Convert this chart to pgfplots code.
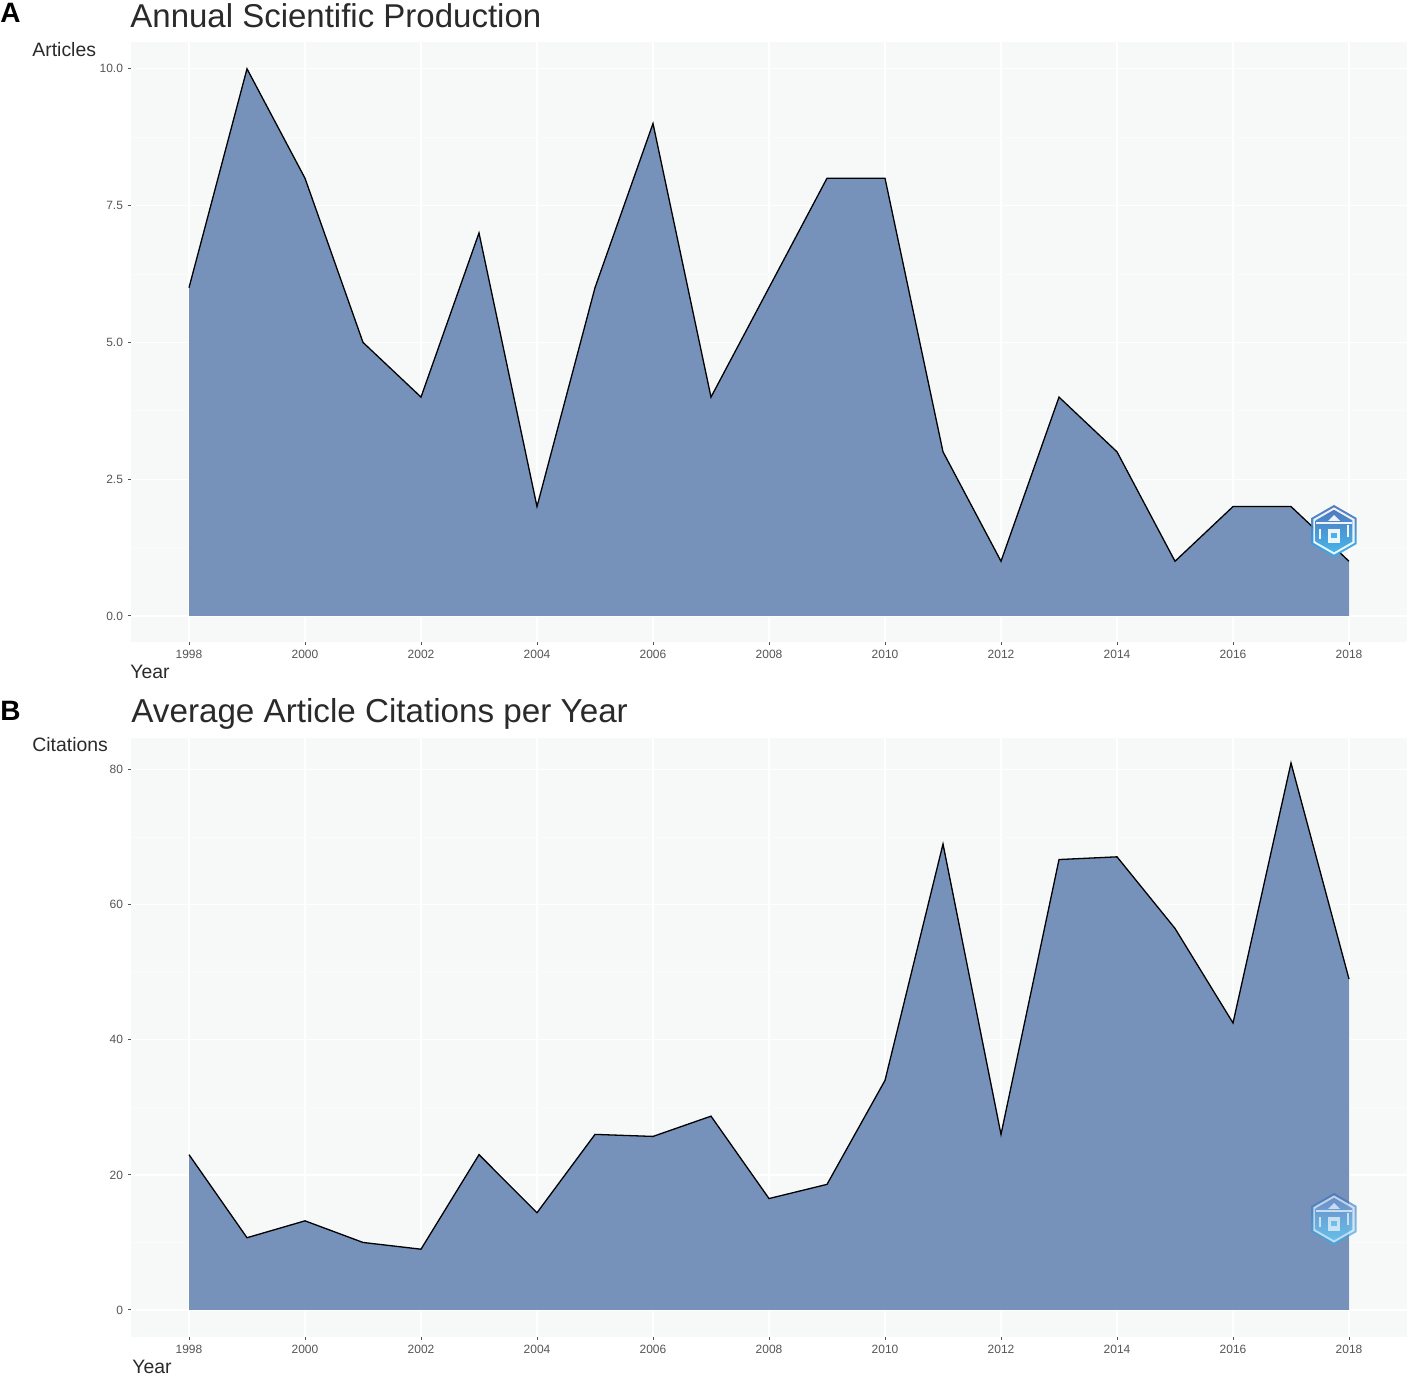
\documentclass[border=0pt]{standalone}
\usepackage{fontspec}
\setmainfont{Liberation Sans}
\usepackage{pgfplots}
\usepackage{pgfplotstable}
\pgfplotsset{compat=1.18}
\definecolor{panelbg}{HTML}{F7F8F8}
\definecolor{minorgrid}{HTML}{FAFBFB}
\definecolor{areablue}{HTML}{7590B9}
\definecolor{tickgray}{HTML}{555555}
\definecolor{titlegray}{HTML}{2A2A2A}
\definecolor{logotop}{HTML}{3F6DB8}
\definecolor{logobot}{HTML}{35AEE8}

\pgfplotstableread{
year articles
1998 6
1999 10
2000 8
2001 5
2002 4
2003 7
2004 2
2005 6
2006 9
2007 4
2008 6
2009 8
2010 8
2011 3
2012 1
2013 4
2014 3
2015 1
2016 2
2017 2
2018 1
}\articles

\pgfplotstableread{
year citations
1998 23
1999 10.7
2000 13.2
2001 10
2002 9
2003 23
2004 14.4
2005 26
2006 25.7
2007 28.7
2008 16.5
2009 18.6
2010 34
2011 69
2012 26
2013 66.7
2014 67.1
2015 56.5
2016 42.5
2017 81
2018 49
}\citations

\pgfplotsset{
  panel/.style={
    anchor=south west,
    scale only axis,
    width=638pt,
    xmin=1997, xmax=2019,
    xtick={1998,2000,...,2018},
    minor x tick num=1,
    minor y tick num=1,
    xticklabel style={/pgf/number format/.cd,1000 sep={}},
    /pgf/number format/assume math mode=true,
    tick label style={font=\fontsize{6}{7}\selectfont, text=tickgray},
    xticklabel shift=-1pt,
    yticklabel shift=-1pt,
    axis line style={draw=none},
    tick style={color=tickgray, line width=0.5pt},
    major tick length=1.5pt,
    minor tick length=0pt,
    tick align=outside,
    xtick pos=bottom,
    ytick pos=left,
    axis background/.style={fill=panelbg},
    grid=both,
    major grid style={white, line width=0.6pt},
    minor grid style={minorgrid, line width=0.3pt},
  },
  area/.style={draw=none, fill=areablue, fill opacity=0.98},
  topline/.style={black, line width=0.65pt},
}

% hexagon watermark, centre given in reference pixels
\newcommand{\hexpath}[1]{(0,#1) -- (0.87*#1,0.5*#1) -- (0.87*#1,-0.5*#1) -- (0,-#1) -- (-0.87*#1,-0.5*#1) -- (-0.87*#1,0.5*#1) -- cycle}
\newcommand{\logo}[3]{%
  \begin{scope}[shift={(#1*0.5pt,{(1375-#2)*0.5pt})}, x=1pt, y=1pt, opacity=#3]
    \shade[top color=logotop, bottom color=logobot] \hexpath{13};
    \fill[white] \hexpath{11.8};
    \shade[top color=logotop, bottom color=logobot] \hexpath{10.6};
    \draw[white, line width=0.8pt] (-9,4) -- (9,4);
    \fill[white] (-3,5) -- (0,8) -- (3,5) -- cycle;
    \draw[white, line width=0.8pt] (-7,1) -- (-7,-4) (7,3) -- (7,-3);
    \fill[white] (-3,1) rectangle (3,-6);
    \fill[logobot] (-1.5,-1) rectangle (1.5,-3.5);
  \end{scope}}

\begin{document}
\begin{tikzpicture}
\path[use as bounding box] (0pt,0pt) rectangle (704pt,687.5pt);

\begin{axis}[panel, at={(65.5pt,366.5pt)}, height=300pt,
  ymin=-0.475, ymax=10.49,
  ytick={0,2.5,5,7.5,10},
  yticklabels={0.0,2.5,5.0,7.5,10.0}]
\addplot[area] table[x=year,y=articles] {\articles} \closedcycle;
\addplot[topline] table[x=year,y=articles] {\articles};
\end{axis}

\begin{axis}[panel, at={(65.5pt,19pt)}, height=299.5pt,
  ymin=-4, ymax=84.7,
  ytick={0,20,40,60,80}]
\addplot[area] table[x=year,y=citations] {\citations} \closedcycle;
\addplot[topline] table[x=year,y=citations] {\citations};
\end{axis}

\logo{1334}{531}{0.9}
\logo{1334}{1219}{0.65}

\node[anchor=base west, inner sep=0pt, font=\bfseries\fontsize{14}{16}\selectfont] at (0pt,676pt) {A};
\node[anchor=base west, inner sep=0pt, font=\bfseries\fontsize{14}{16}\selectfont] at (0pt,327pt) {B};
\node[anchor=base west, inner sep=0pt, text=titlegray, font=\fontsize{16.5}{20}\selectfont] at (65pt,673.5pt) {Annual Scientific Production};
\node[anchor=base west, inner sep=0pt, text=titlegray, font=\fontsize{16.6}{20}\selectfont] at (65.5pt,326pt) {Average Article Citations per Year};
\node[anchor=base west, inner sep=0pt, text=titlegray, font=\fontsize{9.7}{12}\selectfont] at (16pt,659pt) {Articles};
\node[anchor=base west, inner sep=0pt, text=titlegray, font=\fontsize{9.7}{12}\selectfont] at (16pt,311.5pt) {Citations};
\node[anchor=base west, inner sep=0pt, text=titlegray, font=\fontsize{9.7}{12}\selectfont] at (65pt,348pt) {Year};
\node[anchor=base west, inner sep=0pt, text=titlegray, font=\fontsize{9.7}{12}\selectfont] at (66pt,0.7pt) {Year};
\end{tikzpicture}
\end{document}
